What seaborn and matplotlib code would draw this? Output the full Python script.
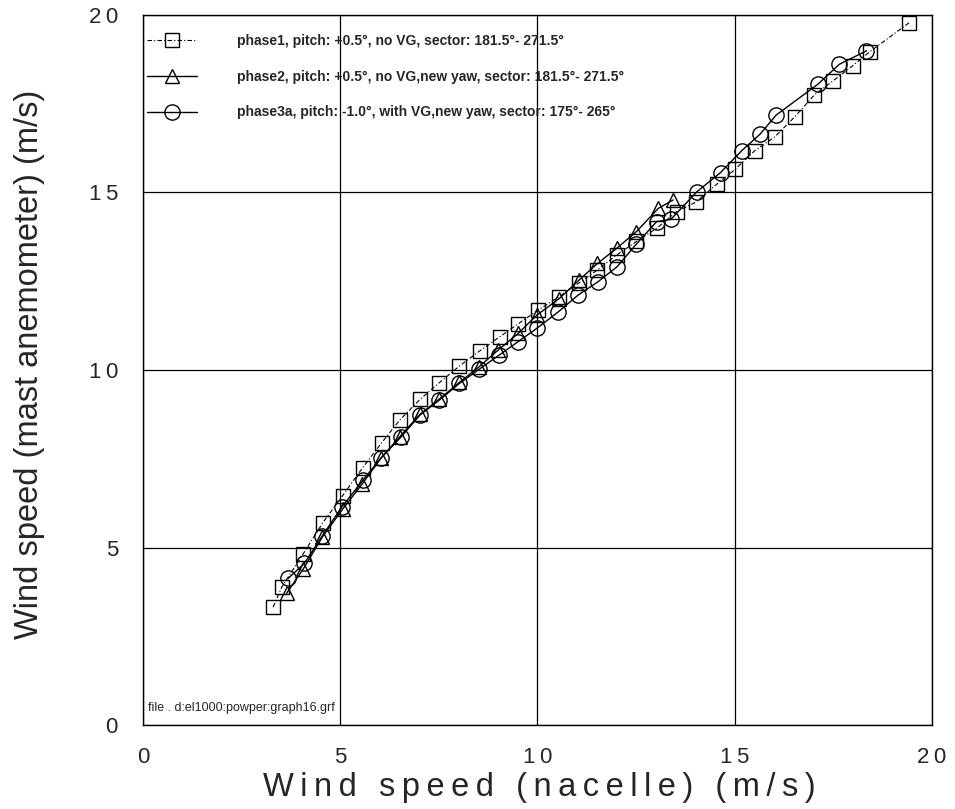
import matplotlib
matplotlib.use("Agg")
import matplotlib.pyplot as plt
import seaborn as sns
import pandas as pd

# Phase 1: pitch +0.5 deg, no VG
p1_nacelle = [3.30, 3.52, 4.06, 4.56, 5.06, 5.57, 6.05, 6.51, 7.02, 7.51, 8.02, 8.54,
              9.05, 9.51, 10.02, 10.55, 11.06, 11.52, 12.01, 12.51, 13.02, 13.53, 14.03,
              14.54, 15.01, 15.51, 16.02, 16.53, 17.02, 17.50, 17.99, 18.43, 19.42]
p1_mast = [3.32, 3.89, 4.82, 5.70, 6.46, 7.25, 7.95, 8.59, 9.17, 9.64, 10.11, 10.54,
           10.94, 11.30, 11.69, 12.07, 12.46, 12.82, 13.24, 13.62, 13.99, 14.46, 14.74,
           15.23, 15.65, 16.18, 16.57, 17.14, 17.75, 18.15, 18.57, 18.97, 19.78]

# Phase 2: pitch +0.5 deg, no VG, new yaw
p2_nacelle = [3.64, 4.06, 4.55, 5.06, 5.55, 6.03, 6.51, 7.02, 7.51, 8.02, 8.52, 9.00,
              9.51, 9.99, 10.55, 11.06, 11.52, 12.01, 12.51, 13.06, 13.44]
p2_mast = [3.71, 4.39, 5.30, 6.08, 6.78, 7.51, 8.12, 8.75, 9.18, 9.65, 10.09, 10.56,
           11.03, 11.55, 12.01, 12.54, 13.00, 13.43, 13.90, 14.55, 14.79]

# Phase 3a: pitch -1.0 deg, with VG, new yaw
p3_nacelle = [3.68, 4.09, 4.54, 5.04, 5.58, 6.03, 6.54, 7.02, 7.51, 8.02, 8.52, 9.03,
              9.51, 9.98, 10.53, 11.03, 11.54, 12.02, 12.51, 13.02, 13.38, 14.04, 14.64,
              15.18, 15.64, 16.05, 17.12, 17.65, 18.34]
p3_mast = [4.13, 4.55, 5.32, 6.14, 6.90, 7.52, 8.11, 8.73, 9.15, 9.62, 10.02, 10.42,
           10.80, 11.17, 11.64, 12.11, 12.49, 12.91, 13.55, 14.18, 14.24, 15.02, 15.56,
           16.18, 16.64, 17.18, 18.06, 18.61, 18.99]

labels = [
    "phase1, pitch: +0.5\u00b0, no VG, sector: 181.5\u00b0- 271.5\u00b0",
    "phase2, pitch: +0.5\u00b0, no VG,new yaw, sector: 181.5\u00b0- 271.5\u00b0",
    "phase3a, pitch: -1.0\u00b0, with VG,new yaw, sector: 175\u00b0- 265\u00b0",
]
ticks = [0, 5, 10, 15, 20]
x_title = "Wind speed (nacelle) (m/s)"
y_title = "Wind speed (mast anemometer) (m/s)"
footnote = "file . d:el1000:powper:graph16.grf"

THIN = "\u2009"


def spaced(s):
    """Open up the letter spacing with thin spaces between glyphs."""
    return THIN.join(s)


sns.set_style("white")
plt.rcParams["font.family"] = ["Liberation Sans", "DejaVu Sans"]

fig = plt.figure(figsize=(9.55, 8.09), dpi=100)
ax = fig.add_axes([0.1497, 0.1038, 0.8262, 0.8777])

series = [
    (p1_nacelle, p1_mast, "s", (0, (4, 2, 1, 2)), 0.8, 9.5),
    (p2_nacelle, p2_mast, "^", "-", 1.0, 10),
    (p3_nacelle, p3_mast, "o", "-", 1.0, 11),
]
for (xs, ys, mk, ls, lw, ms), lab in zip(series, labels):
    df = pd.DataFrame({"nacelle": xs, "mast": ys})
    sns.lineplot(data=df, x="nacelle", y="mast", ax=ax, sort=False, estimator=None,
                 color="black", linestyle=ls, linewidth=lw, marker=mk,
                 markersize=ms, markerfacecolor="none", markeredgecolor="black",
                 markeredgewidth=1.0, label=lab)

ax.set_xlim(0, 20)
ax.set_ylim(0, 20)
ax.set_xticks(ticks)
ax.set_yticks(ticks)
ax.set_xticklabels([spaced(str(t)) for t in ticks])
ax.set_yticklabels([spaced(str(t)) for t in ticks])
ax.tick_params(length=0, labelsize=16)
ax.tick_params(axis="x", pad=16)
ax.tick_params(axis="y", pad=18)
ax.grid(True, color="black", linewidth=0.9)
ax.set_axisbelow(True)
for sp in ax.spines.values():
    sp.set_color("black")
    sp.set_linewidth(1.0)

ax.set_xlabel(spaced(x_title), fontsize=23.5)
ax.xaxis.set_label_coords(0.502, -0.066)
ax.set_ylabel(y_title, fontsize=23.5)
ax.yaxis.set_label_coords(-0.124, 0.508)

leg = ax.legend(loc="upper left", bbox_to_anchor=(0.0, 0.979), frameon=False,
                handlelength=3.6, handletextpad=2.9, labelspacing=1.56,
                borderaxespad=0.0, borderpad=0.3,
                prop={"weight": "bold", "size": 10})

ax.text(0.006, 0.024, footnote, transform=ax.transAxes,
        fontsize=9, ha="left", va="center")

fig.savefig("out.png", dpi=100)
